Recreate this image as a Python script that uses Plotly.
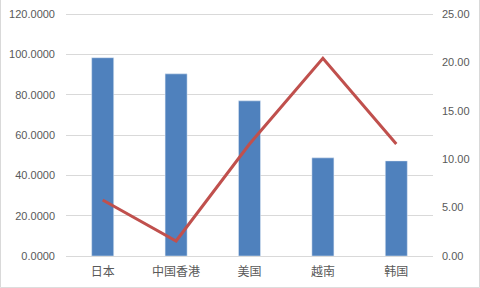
import plotly.graph_objects as go

categories = ["日本", "中国香港", "美国", "越南", "韩国"]
bar_values = [98.4, 90.4, 77.0, 48.7, 47.2]
line_values = [5.79, 1.55, 11.58, 20.45, 11.58]

BAR_COLOR = "#4F81BD"
LINE_COLOR = "#C0504D"
TEXT_COLOR = "#595959"
GRID_COLOR = "#D9D9D9"

fig = go.Figure()
fig.add_trace(go.Bar(x=categories, y=bar_values, marker_color=BAR_COLOR,
                     width=0.3, yaxis="y", showlegend=False))
fig.add_trace(go.Scatter(x=categories, y=line_values, mode="lines",
                         line=dict(color=LINE_COLOR, width=3),
                         yaxis="y2", showlegend=False))

fig.update_layout(
    width=480, height=288,
    margin=dict(l=66, r=47, t=13, b=32, autoexpand=False),
    paper_bgcolor="white", plot_bgcolor="white",
    font=dict(family="Liberation Sans, Arial", size=11, color=TEXT_COLOR),
    xaxis=dict(showgrid=False, showline=False, ticks="", ticklabelstandoff=7,
               automargin=False,
               tickfont=dict(family="Noto Sans CJK SC", size=12, color=TEXT_COLOR)),
    yaxis=dict(range=[0, 120.6], tickvals=[0, 20, 40, 60, 80, 100, 120],
               tickformat=".4f", showgrid=True, automargin=False,
               gridcolor=GRID_COLOR, gridwidth=1, zeroline=True,
               zerolinecolor=GRID_COLOR, zerolinewidth=1, ticklabelstandoff=10),
    yaxis2=dict(range=[0, 25.125], tickvals=[0, 5, 10, 15, 20, 25],
                tickformat=".2f", overlaying="y", automargin=False,
                side="right", showgrid=False, zeroline=False, ticklabelstandoff=8),
    shapes=[dict(type="rect", xref="paper", yref="paper",
                 x0=-0.1785, x1=1.1267, y0=-0.1302, y1=1.0558,
                 line=dict(color=GRID_COLOR, width=1), layer="below")],
)

fig.write_html("out.html")
